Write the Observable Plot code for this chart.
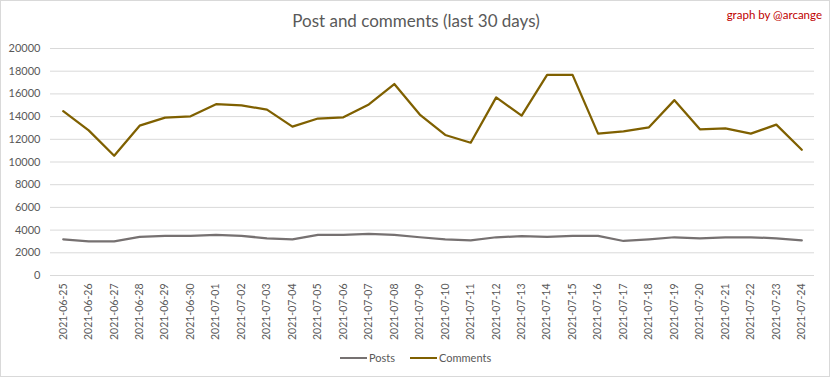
<!DOCTYPE html>
<html><head><meta charset="utf-8">
<script src="https://cdn.jsdelivr.net/npm/d3@7"></script>
<script src="https://cdn.jsdelivr.net/npm/@observablehq/plot@0.6"></script>
<style>
body{margin:0;background:#fff;}
#chart{position:relative;width:832px;height:378px;background:#fff;font-family:Lato,"Open Sans",sans-serif;overflow:hidden}
#frame{position:absolute;left:0;top:0;width:828px;height:375px;border:1px solid #d9d9d9;pointer-events:none}
#title{position:absolute;left:0;width:832px;top:10px;text-align:center;font-size:17px;color:#595959;line-height:22px}
#credit{position:absolute;right:10px;top:7px;font-size:11.5px;color:#c00000;line-height:16px}
#plot{position:absolute;left:0;top:0}
#legend{position:absolute;top:350px;left:0;width:832px;font-size:11px;color:#595959;line-height:16px}
.item{position:absolute;top:0;display:flex;align-items:center}
.sw{display:inline-block;width:27px;height:2px;margin-right:2px}
</style></head><body>
<div id="chart">
  <div id="plot"></div>
  <div id="title">Post and comments (last 30 days)</div>
  <div id="credit">graph by @arcange</div>
  <div id="legend"></div>
  <div id="frame"></div>
</div>
<script>
const dates = ["2021-06-25","2021-06-26","2021-06-27","2021-06-28","2021-06-29","2021-06-30","2021-07-01","2021-07-02","2021-07-03","2021-07-04","2021-07-05","2021-07-06","2021-07-07","2021-07-08","2021-07-09","2021-07-10","2021-07-11","2021-07-12","2021-07-13","2021-07-14","2021-07-15","2021-07-16","2021-07-17","2021-07-18","2021-07-19","2021-07-20","2021-07-21","2021-07-22","2021-07-23","2021-07-24"];
const posts = [3190,3010,3010,3400,3490,3490,3570,3490,3280,3190,3570,3570,3660,3570,3370,3190,3100,3370,3460,3400,3490,3490,3040,3190,3370,3280,3370,3370,3280,3100];
const comments = [14480,12790,10550,13200,13910,14030,15090,14980,14620,13120,13830,13940,15070,16870,14180,12380,11700,15690,14090,17680,17680,12500,12700,13060,15450,12880,12970,12500,13290,11080];
const seriesNames = ["Posts","Comments"];
const seriesColors = ["#767171","#7f6000"];
const yTicks = d3.range(0, 20001, 2000);

const data = dates.flatMap((d, i) => [
  {date: d, series: "Posts", value: posts[i]},
  {date: d, series: "Comments", value: comments[i]}
]);

const chart = Plot.plot({
  width: 832,
  height: 378,
  marginTop: 48,
  marginBottom: 103,
  marginLeft: 50,
  marginRight: 18,
  style: {background: "transparent", fontFamily: "Lato, 'Open Sans', sans-serif", color: "#595959"},
  x: {type: "point", domain: dates, padding: 0.5, round: false},
  y: {domain: [0, 20000]},
  color: {domain: seriesNames, range: seriesColors},
  marks: [
    Plot.gridY(yTicks, {stroke: "#d9d9d9", strokeOpacity: 1, strokeWidth: 1}),
    Plot.axisY(yTicks, {tickSize: 0, tickPadding: 10, tickFormat: d => String(d), fontSize: 11, fill: "#595959", label: null}),
    Plot.axisX({tickSize: 0, tickRotate: -90, tickPadding: 8, fontSize: 10.5, fill: "#595959", label: null}),
    Plot.lineY(data, {x: "date", y: "value", stroke: "series", strokeWidth: 2.25, strokeLinejoin: "round"})
  ]
});
document.getElementById("plot").appendChild(chart);

const legend = document.getElementById("legend");
const legendX = [340, 410];
seriesNames.forEach((name, i) => {
  const item = document.createElement("div");
  item.className = "item";
  item.style.left = legendX[i] + "px";
  const sw = document.createElement("span");
  sw.className = "sw";
  sw.style.background = seriesColors[i];
  const label = document.createElement("span");
  label.textContent = name;
  item.appendChild(sw);
  item.appendChild(label);
  legend.appendChild(item);
});
</script>
</body></html>
